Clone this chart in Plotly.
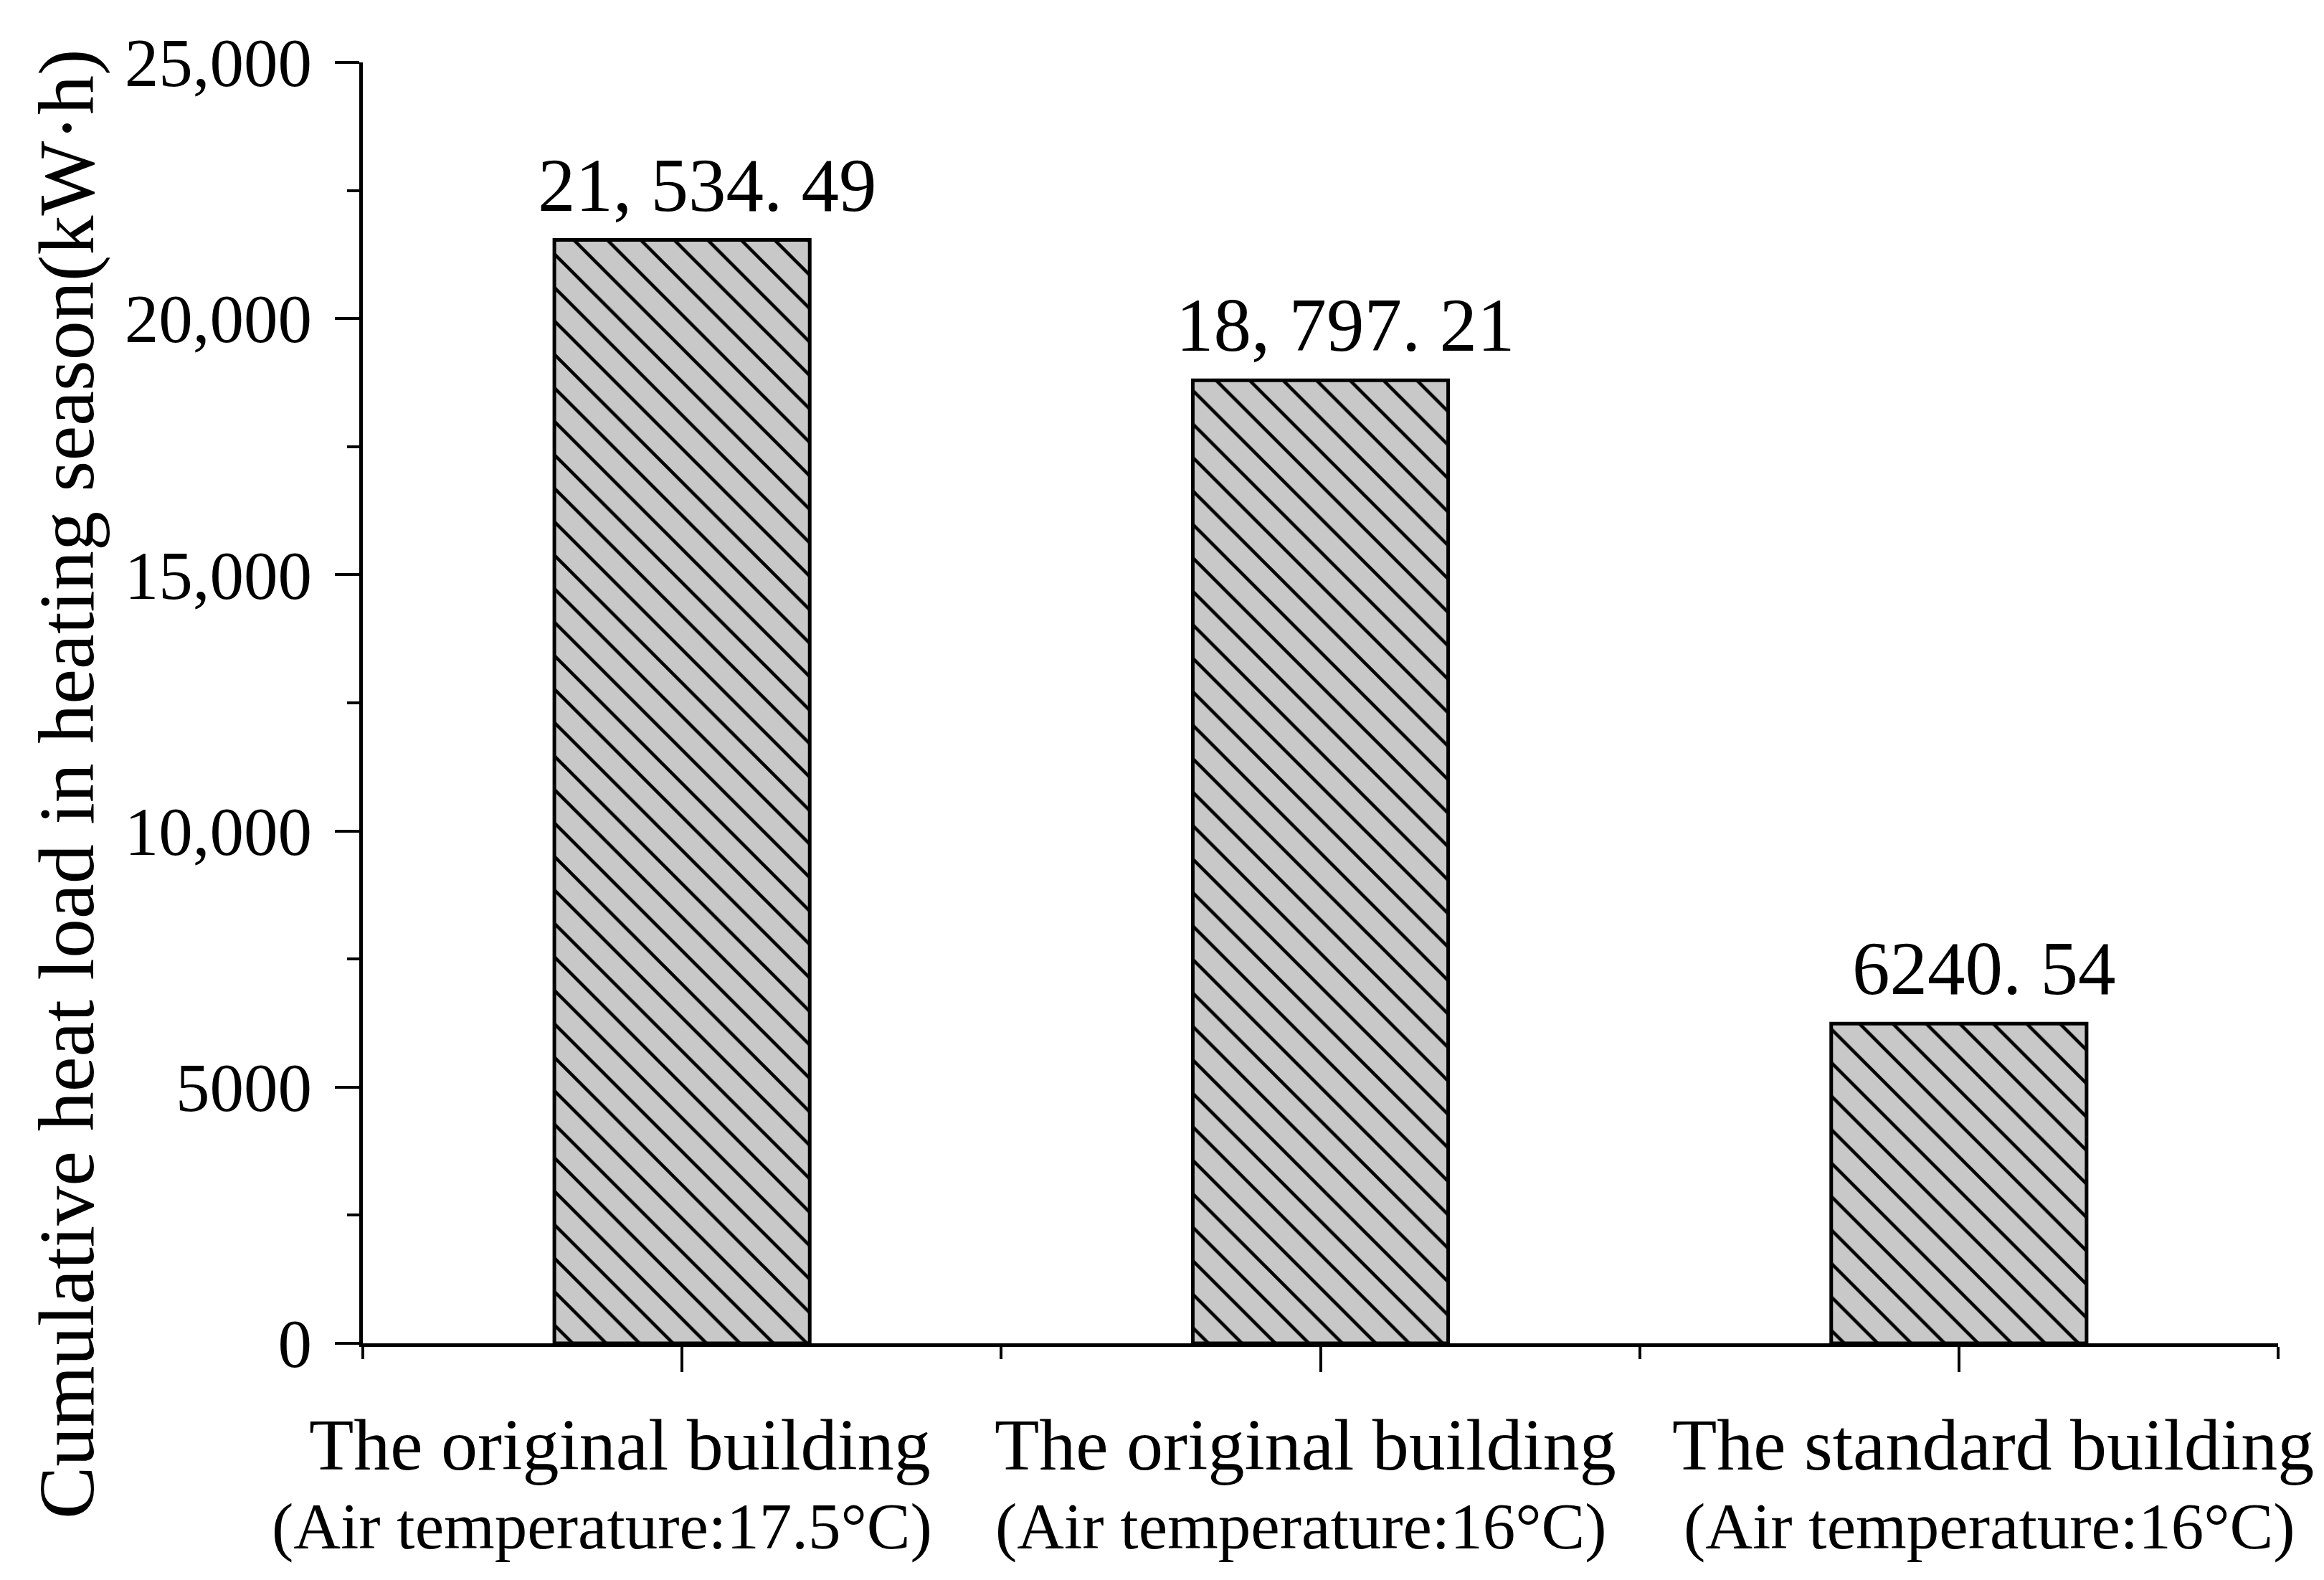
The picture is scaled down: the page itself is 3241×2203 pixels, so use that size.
import plotly.graph_objects as go

# categories and values
buildings = ['The original building', 'The original building', 'The standard building']
conditions = ['(Air temperature:17.5°C)', '(Air temperature:16°C)', '(Air temperature:16°C)']
heat_load = [21534.49, 18797.21, 6240.54]
y_ticks = [0, 5000, 10000, 15000, 20000, 25000]

FONT = 'Liberation Serif'

# the category labels in the original are not centred on their ticks (pixels)
name_shift = [-87, -21, 48]
cond_shift = [-112, -27, 43]


def tick_text(v):
    # Origin style: no thousands separator below 10,000
    return f'{v:,}' if v >= 10000 else f'{v}'


def bar_text(v):
    s = f'{v:,.2f}' if v >= 10000 else f'{v:.2f}'
    return s.replace(',', ', ').replace('.', '. ')


x_pos = list(range(len(heat_load)))

fig = go.Figure()
fig.add_trace(go.Bar(
    x=x_pos,
    y=heat_load,
    width=0.4,
    marker=dict(
        color='#c8c8c8',
        line=dict(color='black', width=5),
        pattern=dict(shape='\\', fgcolor='black', bgcolor='#c8c8c8',
                     size=33, solidity=0.14, fillmode='replace'),
    ),
    showlegend=False,
))

# value labels above the bars
for x, v in zip(x_pos, heat_load):
    fig.add_annotation(x=x, y=v, text=bar_text(v), showarrow=False,
                       xanchor='center', yanchor='bottom', yshift=16, xshift=35,
                       font=dict(family=FONT, size=105, color='black'))

# two-line category labels
for x, b, c, s1, s2 in zip(x_pos, buildings, conditions, name_shift, cond_shift):
    fig.add_annotation(x=x, xref='x', y=-0.0795, yref='paper', text=b, showarrow=False,
                       xanchor='center', yanchor='middle', xshift=s1,
                       font=dict(family=FONT, size=102, color='black'))
    fig.add_annotation(x=x, xref='x', y=-0.1428, yref='paper', text=c, showarrow=False,
                       xanchor='center', yanchor='middle', xshift=s2,
                       font=dict(family=FONT, size=91, color='black'))

# y axis title, placed by hand since it is not centred on the axis
fig.add_annotation(x=-0.1546, y=0.4367, xref='paper', yref='paper',
                   text='Cumulative heat load in heating season(kW·h)',
                   textangle=-90, showarrow=False, xanchor='center', yanchor='middle',
                   font=dict(family=FONT, size=110, color='black'))

fig.update_xaxes(
    range=[-0.5, 2.5],
    tickmode='array', tickvals=x_pos, ticktext=buildings, showticklabels=False,
    ticks='outside', ticklen=35, tickwidth=4, tickcolor='black',
    minor=dict(tick0=-0.5, dtick=1, ticks='outside', ticklen=17, tickwidth=4, tickcolor='black'),
    showline=True, linewidth=5, linecolor='black',
    showgrid=False, zeroline=False,
)
fig.update_yaxes(
    range=[0, 25000],
    tickmode='array', tickvals=y_ticks, ticktext=[tick_text(v) for v in y_ticks],
    ticks='outside', ticklen=34, tickwidth=4, tickcolor='black',
    minor=dict(dtick=2500, ticks='outside', ticklen=17, tickwidth=4, tickcolor='black'),
    showline=True, linewidth=5, linecolor='black',
    showgrid=False, zeroline=False,
    tickfont=dict(family=FONT, size=95, color='black'),
    ticklabelstandoff=13,
)

fig.update_layout(
    width=3241, height=2203,
    margin=dict(l=498, r=72, t=79, b=338),
    plot_bgcolor='white', paper_bgcolor='white',
    bargap=0.6,
)

fig.write_html('out.html')
